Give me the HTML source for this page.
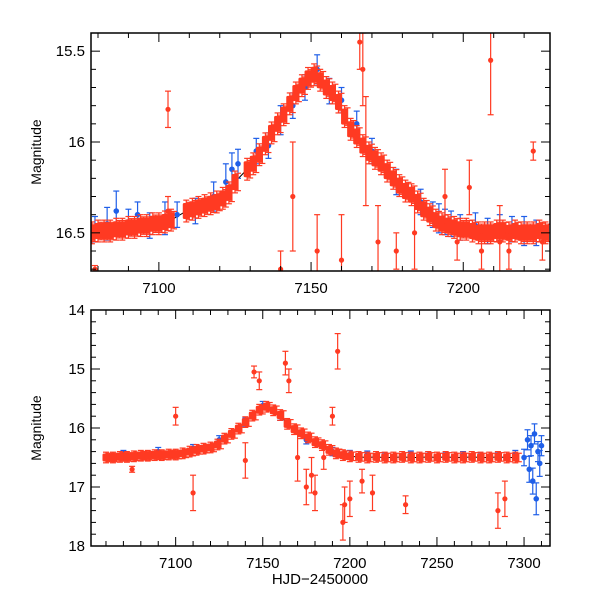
<!DOCTYPE html>
<html><head><meta charset="utf-8"><style>
html,body{margin:0;padding:0;background:#fff;}
svg{display:block;font-family:"Liberation Sans",sans-serif;}
</style></head><body>
<svg id="chart" width="600" height="600" viewBox="0 0 600 600">
<rect width="600" height="600" fill="#fff"/>
<g id="top"></g>
<g id="bot"></g>
</svg>
<script>
// ---- Top panel data ----
const topRedT = [7078,7080,7082,7084,7086,7088,7090,7092,7094,7096,7098,7100,7102,7104,7109,7111,7113,7115,7117,7119,7121,7123,7125,7129,7131,7133,7135,7137,7139,7141,7143,7145,7147,7149,7151,7153,7155,7157,7159,7161,7163,7165,7167,7169,7171,7173,7175,7177,7179,7181,7183,7185,7187,7189,7191,7193,7195,7197,7199,7201,7203,7205,7207,7209,7211,7213,7215,7217,7219,7221,7223,7225,7227];
const topRedM = [16.50,16.49,16.49,16.49,16.48,16.48,16.47,16.47,16.46,16.46,16.45,16.45,16.44,16.43,16.38,16.37,16.36,16.35,16.34,16.33,16.31,16.28,16.22,16.15,16.12,16.07,16.01,15.95,15.90,15.85,15.79,15.73,15.69,15.65,15.63,15.66,15.70,15.73,15.78,15.86,15.93,15.97,16.02,16.06,16.09,16.12,16.16,16.20,16.24,16.27,16.29,16.33,16.37,16.40,16.43,16.45,16.46,16.47,16.48,16.48,16.49,16.50,16.50,16.50,16.49,16.49,16.50,16.49,16.50,16.50,16.50,16.49,16.50];
const topBlueT = [7079,7083,7086,7090,7093,7097,7102,7106,7112,7118,7122,7124,7126,7132,7136,7140,7144,7148,7152,7156,7160,7165,7170,7178,7186,7190,7192,7194,7196,7199,7204,7208,7212,7216,7220,7224];
const topBlueM = [16.48,16.45,16.38,16.44,16.40,16.46,16.42,16.40,16.38,16.30,16.22,16.15,16.12,16.05,16.02,15.88,15.80,15.70,15.60,15.72,15.77,15.90,16.05,16.22,16.33,16.40,16.42,16.44,16.45,16.47,16.46,16.49,16.47,16.48,16.49,16.50];
const topBlueE = [0.03,0.05,0.07,0.03,0.03,0.03,0.05,0.03,0.03,0.04,0.06,0.05,0.04,0.03,0.03,0.04,0.03,0.03,0.04,0.03,0.03,0.03,0.03,0.03,0.03,0.03,0.04,0.03,0.03,0.03,0.03,0.03,0.03,0.03,0.04,0.03];
const topOutT = [7079,7103,7103,7140,7144,7152,7160,7166,7167,7168,7172,7178,7184,7194,7198,7202,7206,7209,7212,7215,7223,7226];
const topOutM = [16.70,15.82,16.38,16.70,16.30,16.60,16.65,15.45,15.60,16.05,16.55,16.60,16.50,16.30,16.55,16.25,16.60,15.55,16.55,16.60,16.05,16.55];
const topOutE = [0.02,0.10,0.08,0.10,0.30,0.20,0.25,0.15,0.20,0.30,0.20,0.10,0.20,0.15,0.10,0.15,0.10,0.30,0.20,0.10,0.05,0.10];
const topXTicks = [7100,7150,7200];
const topYTicks = [15.5,16,16.5];

// ---- Bottom panel data ----
const botRedT = [7060,7064,7068,7072,7076,7080,7084,7088,7092,7096,7100,7104,7108,7112,7116,7120,7124,7128,7132,7136,7140,7144,7148,7152,7156,7160,7164,7168,7172,7176,7180,7184,7188,7192,7196,7200,7205,7210,7215,7220,7225,7230,7235,7240,7245,7250,7255,7260,7265,7270,7275,7280,7285,7290,7295];
const botRedM = [16.50,16.50,16.49,16.49,16.48,16.47,16.47,16.46,16.46,16.45,16.45,16.43,16.40,16.37,16.35,16.33,16.28,16.18,16.10,16.01,15.90,15.79,15.69,15.64,15.70,15.78,15.93,16.02,16.09,16.16,16.24,16.29,16.37,16.43,16.46,16.48,16.49,16.50,16.49,16.50,16.50,16.49,16.50,16.50,16.49,16.50,16.49,16.50,16.50,16.49,16.50,16.50,16.49,16.50,16.50];
const botBlueT = [7070,7090,7110,7125,7140,7150,7160,7175,7190,7200,7210,7220,7235,7245,7255,7265,7275,7285,7295,7300,7302,7303,7304,7305,7306,7307,7308,7309,7310];
const botBlueM = [16.45,16.40,16.35,16.20,15.90,15.62,15.80,16.20,16.40,16.45,16.45,16.48,16.45,16.46,16.47,16.46,16.48,16.47,16.45,16.50,16.20,16.70,16.30,16.90,16.10,17.20,16.40,16.60,16.30];
const botBlueE = [0.05,0.05,0.05,0.05,0.05,0.05,0.05,0.05,0.05,0.05,0.04,0.04,0.04,0.04,0.04,0.04,0.04,0.04,0.05,0.12,0.15,0.20,0.15,0.20,0.15,0.25,0.15,0.20,0.15];
const botOutT = [7075,7100,7110,7140,7145,7148,7163,7165,7170,7175,7178,7180,7185,7190,7193,7196,7197,7200,7207,7213,7232,7285,7289];
const botOutM = [16.70,15.80,17.10,16.55,15.05,15.20,14.90,15.20,16.50,17.00,16.80,17.10,16.50,15.80,14.70,17.60,17.30,17.20,16.90,17.10,17.30,17.40,17.20];
const botOutE = [0.05,0.15,0.30,0.30,0.10,0.15,0.20,0.20,0.40,0.30,0.30,0.30,0.20,0.15,0.30,0.30,0.30,0.30,0.20,0.30,0.15,0.30,0.30];
const botXTicks = [7100,7150,7200,7250,7300];
const botYTicks = [14,15,16,17,18];

const NS = "http://www.w3.org/2000/svg";
const RED = "#ff3a22", BLUE = "#1f5fe8";
function mk(tag, attrs, parent){const e=document.createElementNS(NS,tag);for(const k in attrs)e.setAttribute(k,attrs[k]);parent.appendChild(e);return e;}

function panel(g, cfg){
  const {L,R,T,B,x0,x1,y0,y1} = cfg;
  const sx = v => L + (v-x0)/(x1-x0)*(R-L);
  const sy = v => T + (v-y0)/(y1-y0)*(B-T);
  const clip = "clip"+cfg.id;
  const cp = mk("clipPath",{id:clip},g); mk("rect",{x:L,y:T,width:R-L,height:B-T},cp);
  const d = mk("g",{"clip-path":"url(#"+clip+")"},g);
  let pts = cfg.bandT.map((t,i)=>sx(t)+","+sy(cfg.bandM[i])).join(" ");
  const ln = mk("polyline",{points:pts,fill:"none",stroke:"#000","stroke-width":1},d);
  
  
  function point(t,m,e,col,r,name){
    const x=sx(t), ya=sy(m-e), yb=sy(m+e);
    const gg = mk("g",{},d);
    
    
    mk("line",{x1:x,x2:x,y1:ya,y2:yb,stroke:col,"stroke-width":1.2},gg);
    mk("line",{x1:x-3,x2:x+3,y1:ya,y2:ya,stroke:col,"stroke-width":1.2},gg);
    mk("line",{x1:x-3,x2:x+3,y1:yb,y2:yb,stroke:col,"stroke-width":1.2},gg);
    if(r>0.5) mk("circle",{cx:x,cy:sy(m),r:r,fill:col},gg);
  }
  // blue band behind (wider error bars)
  cfg.blueT.forEach((t,i)=>point(t,cfg.blueM[i],cfg.blueE[i]+cfg.bbe,BLUE,2.8,'blue-point'));
  // dense red band
  cfg.bandT.forEach((t,i)=>{
    point(t,cfg.bandM[i],cfg.be,RED,0,'red-band-errorbar');
    point(t+cfg.hs,cfg.bandM[i],cfg.be*0.8,RED,0,'red-band-errorbar');
  });
  cfg.bandT.forEach((t,i)=>{
    const x=sx(t), y=sy(cfg.bandM[i]);
    const r = mk("rect",{x:x-cfg.bw/2,y:y-cfg.bh/2,width:cfg.bw,height:cfg.bh,fill:RED,rx:1.5},d);
    
    
  });
  cfg.outT.forEach((t,i)=>point(t,cfg.outM[i],cfg.outE[i],RED,2.6,'red-outlier'));
  const fr = mk("rect",{x:L,y:T,width:R-L,height:B-T,fill:"none",stroke:"#000","stroke-width":1.5},g);
  
  
  for(let v=Math.ceil(x0/cfg.xmin)*cfg.xmin; v<=x1; v+=cfg.xmin){
    const x=sx(v), len = (v%cfg.xmaj===0)?9:5;
    mk("line",{x1:x,x2:x,y1:B,y2:B-len,stroke:"#000","stroke-width":1},g);
    mk("line",{x1:x,x2:x,y1:T,y2:T+len,stroke:"#000","stroke-width":1},g);
  }
  cfg.xTicks.forEach(v=>{
    const t = mk("text",{x:sx(v),y:B+22,"text-anchor":"middle","font-size":15},g);
    t.textContent = v;
    
    
  });
  for(let k=Math.ceil(y0/cfg.ymin-1e-6); k*cfg.ymin<=y1+1e-9; k++){
    const v=k*cfg.ymin, y=sy(v);
    const maj = Math.abs(v/cfg.ymaj - Math.round(v/cfg.ymaj))<1e-6;
    const len = maj?9:5;
    mk("line",{x1:L,x2:L+len,y1:y,y2:y,stroke:"#000","stroke-width":1},g);
    mk("line",{x1:R,x2:R-len,y1:y,y2:y,stroke:"#000","stroke-width":1},g);
  }
  cfg.yTicks.forEach(v=>{
    const t = mk("text",{x:L-6,y:sy(v)+5,"text-anchor":"end","font-size":15},g);
    t.textContent = v;
    
    
  });
  const yt = mk("text",{x:0,y:0,"text-anchor":"middle","font-size":14,transform:`translate(${L-50},${(T+B)/2}) rotate(-90)`},g);
  yt.textContent = "Magnitude";
  
  
}

panel(document.getElementById("top"),{id:"t",L:91,R:550,T:33,B:271,x0:7077.7,x1:7228.5,y0:15.40,y1:16.71,
  bandT:topRedT,bandM:topRedM,be:0.06,bw:7,bh:16,hs:1,bbe:0.04,blueT:topBlueT,blueM:topBlueM,blueE:topBlueE,
  outT:topOutT,outM:topOutM,outE:topOutE,xTicks:topXTicks,yTicks:topYTicks,xmin:10,xmaj:50,ymin:0.1,ymaj:0.5});
panel(document.getElementById("bot"),{id:"b",L:91,R:550,T:310,B:546,x0:7051.4,x1:7314.9,y0:14,y1:18,
  bandT:botRedT,bandM:botRedM,be:0.09,bw:7,bh:8,hs:2,bbe:0.02,blueT:botBlueT,blueM:botBlueM,blueE:botBlueE,
  outT:botOutT,outM:botOutM,outE:botOutE,xTicks:botXTicks,yTicks:botYTicks,xmin:10,xmaj:50,ymin:0.2,ymaj:1});
const xt = mk("text",{x:320,y:584,"text-anchor":"middle","font-size":15},document.getElementById("bot"));
xt.textContent = "HJD\u22122450000";


</script>
</body></html>
